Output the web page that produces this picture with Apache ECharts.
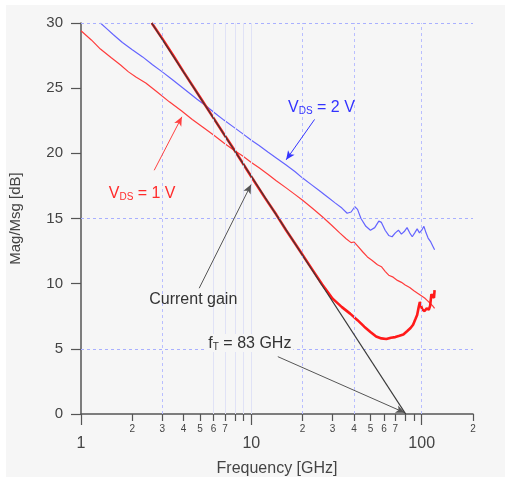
<!DOCTYPE html>
<html><head><meta charset="utf-8">
<script src="https://cdn.jsdelivr.net/npm/echarts@6/dist/echarts.min.js"></script>
<style>
html,body{margin:0;padding:0;background:#fff;}
#wrap{position:relative;width:505px;height:477px;background:#fff;overflow:hidden;}
#bg{position:absolute;left:6px;top:5px;width:499px;height:472px;background:#f6f6f6;}
#chart{position:absolute;left:0;top:0;width:505px;height:477px;}
</style></head><body>
<div id="wrap"><div id="bg"></div><div id="chart"></div></div>
<script>
// Frequency [GHz], Mag/Msg [dB]
const vds2 = [[1.3,30.0],[1.42,29.55],[1.55,29.1],[1.75,28.5],[2.0,27.95],[2.3,27.4],[2.63,26.8],[3.0,26.25],[3.4,25.7],[3.8,25.2],[4.3,24.65],[4.8,24.15],[5.4,23.65],[6.1,23.1],[6.9,22.55],[7.8,22.05],[8.8,21.55],[10,21.0],[11.1,20.6],[12.5,20.1],[14,19.65],[16,19.1],[18,18.6],[20,18.1],[22.5,17.6],[25,17.15],[28,16.65],[31,16.2],[34,15.8],[36.5,15.4],[38.5,15.5],[40.5,15.9],[42,15.7],[44,15.0],[47,14.4],[50,14.1],[53,14.3],[56,14.8],[58,14.7],[61,14.1],[64,13.7],[67,13.6],[70,13.9],[73,14.1],[76,13.8],[79,14.0],[82,14.3],[85,13.9],[88,13.6],[91,13.9],[94,14.2],[97,13.9],[100,14.1],[103,14.4],[106,13.9],[109,13.5],[113,13.2],[117,12.8],[119,12.6]];
const vds1 = [[1.0,29.4],[1.15,28.7],[1.3,28.0],[1.5,27.35],[1.7,26.8],[1.9,26.25],[2.1,25.85],[2.4,25.4],[2.8,24.7],[3.3,23.95],[3.9,23.25],[4.5,22.6],[5.2,22.0],[6.0,21.4],[6.9,20.8],[7.8,20.3],[8.9,19.8],[10,19.3],[11.1,18.9],[12.5,18.4],[14,17.9],[16,17.35],[18,16.85],[20,16.4],[23,15.75],[26,15.15],[29.5,14.5],[33,13.9],[36,13.45],[38.5,13.15],[40,13.2],[42,12.9],[45,12.45],[48,12.05],[51,11.8],[55,11.45],[58,11.3],[61,10.95],[64,10.65],[68,10.5],[72,10.25],[76,10.1],[80,9.9],[85,9.7],[90,9.45],[95,9.25],[100,9.05],[104,8.9],[108,8.7],[112,8.5],[116,8.3],[119,8.1]];
const h21 = [[2.6,30.0],[3,28.8],[3.5,27.45],[4,26.25],[5,24.3],[6,22.7],[7,21.35],[8,20.2],[10,18.2],[12,16.6],[14,15.3],[16,14.1],[18,13.1],[20,12.2],[23,11.0],[26,9.95],[30,8.85],[34,8.2],[38,7.7],[42,7.2],[46,6.7],[50,6.3],[54,5.95],[58,5.8],[62,5.75],[66,5.85],[70,5.9],[74,6.0],[78,6.1],[82,6.35],[86,6.6],[89,6.85],[92,7.3],[94,7.6],[96,8.2],[97.5,8.6],[99,8.3],[101,8.0],[104,7.9],[107,8.1],[110,8.0],[112,8.3],[114,9.2],[116,9.3],[118,8.9],[119,9.5]];
const ftLine = [[2.6,30],[80.5,0]];
const majorX = [1,10,100];
const minorX = [2,3,4,5,6,7,8,9,20,30,40,50,60,70,80,90,200];
const minorXLabels = [2,3,4,5,6,7,20,30,40,50,60,70,200];
const hGrid = [5,15,30];
const vGrid = [3,20,40,100];
const vGridFaint = [6,7,8,9,10];

const xMin = 1, xMax = 200;
const lmax = Math.log10(xMax);
const FONT = '"Liberation Sans", Arial, sans-serif';
const chart = echarts.init(document.getElementById('chart'), null, {renderer:'canvas'});

const gridLines = [];
hGrid.forEach(v => gridLines.push({yAxis: v, lineStyle:{color:'#a9b0ff', type:[3,3], width:1}}));
vGrid.forEach(v => gridLines.push({xAxis: v, lineStyle:{color:'#b9beff', type:[3,3], width:1}}));
vGridFaint.forEach(v => gridLines.push({xAxis: v, lineStyle:{color:'#e0e2f6', type:'solid', width:1}}));

function arrow(a, b, color){
  const ls = {color:color, width:1, type:'solid'};
  return [{coord:a, symbol:'none', lineStyle:ls}, {coord:b, symbol:'arrow', symbolSize:[6,9], lineStyle:ls, itemStyle:{color:color}}];
}
const arrows = [
  arrow([2.69,18.7],[3.91,22.8],'#ff4040'),
  arrow([23.5,22.6],[16.0,19.5],'#3535ff'),
  arrow([4.94,9.65],[9.96,17.6],'#555'),
  arrow([14.3,4.4],[79.5,0.1],'#555')
];

function sub(main, s, rest, color){
  return {
    formatter: '{a|' + main + '}{b|' + s + '}{a|' + rest + '}',
    rich: {
      a: {fontSize:16, color:color, fontFamily:FONT, verticalAlign:'bottom', lineHeight:18},
      b: {fontSize:10, color:color, fontFamily:FONT, verticalAlign:'bottom', lineHeight:13}
    }
  };
}
function note(coord, lab){
  return {coord: coord, symbol:'rect', symbolSize:1, itemStyle:{color:'rgba(0,0,0,0)'},
    label: Object.assign({show:true, position:'inside'}, lab)};
}
const notes = [
  note([2.285,16.95], sub('V','DS',' = 1 V','#ff2b2b')),
  note([25.8,23.55], sub('V','DS',' = 2 V','#3333ff')),
  note([4.56,8.75], {formatter:'Current gain', fontSize:16, color:'#333', fontFamily:FONT}),
  note([9.8,5.45], Object.assign(sub('f','T',' = 83 GHz','#333'), {backgroundColor:'#f6f6f6', padding:[0,2,0,2]}))
];

chart.setOption({
  animation:false,
  backgroundColor:'transparent',
  textStyle:{fontFamily:FONT},
  grid:{left:81, top:23, width:392, height:391, containLabel:false, outerBoundsMode:'none'},
  xAxis:[
    {type:'log', logBase:10, min:xMin, max:xMax, show:false, gridIndex:0},
    {type:'value', min:0, max:lmax, gridIndex:0, position:'bottom',
     name:'Frequency [GHz]', nameLocation:'middle', nameGap:47,
     nameTextStyle:{fontSize:16, color:'#444', fontFamily:FONT},
     axisLine:{show:true, onZero:false, lineStyle:{color:'#555', width:1.5}},
     axisTick:{show:true, length:11, customValues: majorX.map(Math.log10), lineStyle:{color:'#555', width:1.2}},
     axisLabel:{show:true, customValues: majorX.map(Math.log10), margin:22, fontSize:16, color:'#444', fontFamily:FONT,
       formatter: v => String(Math.round(Math.pow(10, v)))},
     splitLine:{show:false}},
    {type:'value', min:0, max:lmax, gridIndex:0, position:'bottom',
     axisLine:{show:false, onZero:false},
     axisTick:{show:true, length:7, customValues: minorX.map(Math.log10), lineStyle:{color:'#555', width:1.2}},
     axisLabel:{show:true, customValues: minorXLabels.map(Math.log10), margin:10, fontSize:10, color:'#444', fontFamily:FONT,
       formatter: v => String(Math.round(Math.pow(10, v))).charAt(0)},
     splitLine:{show:false}}
  ],
  yAxis:[{type:'value', min:0, max:30, interval:5,
    name:'Mag/Msg [dB]', nameLocation:'middle', nameGap:58,
    nameTextStyle:{fontSize:15, color:'#444', fontFamily:FONT},
    axisLine:{show:true, onZero:false, lineStyle:{color:'#555', width:1.5}},
    axisTick:{show:true, length:10, lineStyle:{color:'#555', width:1.2}},
    axisLabel:{margin:18, fontSize:15, color:'#444', fontFamily:FONT},
    splitLine:{show:false}}],
  series:[
    {type:'line', name:'grid', xAxisIndex:0, yAxisIndex:0, data:[], z:1, silent:true,
     markLine:{silent:true, symbol:'none', label:{show:false}, data:gridLines, animation:false}},
    {type:'line', name:'VDS = 2 V', xAxisIndex:0, data:vds2, showSymbol:false, symbol:'none', z:3,
     lineStyle:{color:'#6464ff', width:1.2}},
    {type:'line', name:'VDS = 1 V', xAxisIndex:0, data:vds1, showSymbol:false, symbol:'none', z:3,
     lineStyle:{color:'#ff3c3c', width:1.2}},
    {type:'line', name:'H21', xAxisIndex:0, data:h21, showSymbol:false, symbol:'none', z:4,
     lineStyle:{color:'#ff1a1a', width:2.6}},
    {type:'line', name:'fT line', xAxisIndex:0, data:ftLine, showSymbol:false, symbol:'none', z:5,
     lineStyle:{color:'#3a3a3a', width:1.3}},
    {type:'line', name:'annot', xAxisIndex:0, data:[], z:6, silent:true,
     markLine:{silent:true, label:{show:false}, data:arrows, animation:false},
     markPoint:{silent:true, data:notes, animation:false}}
  ]
});
</script></body></html>
